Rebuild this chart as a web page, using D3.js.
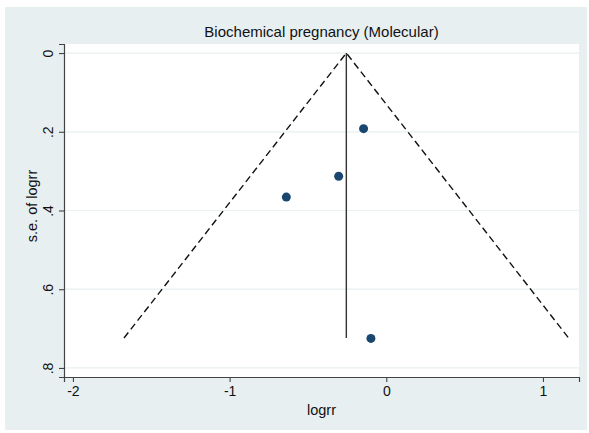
<!DOCTYPE html>
<html>
<head>
<meta charset="utf-8">
<script src="https://cdn.jsdelivr.net/npm/d3@7"></script>
<style>
  body { margin: 0; background: #fff; }
  svg { display: block; font-family: "Liberation Sans", Arial, sans-serif; }
</style>
</head>
<body>
<div id="chart"></div>
<script>
// study estimates (logrr, s.e.)
const logrr = [-0.145, -0.304, -0.638, -0.098];
const seLogrr = [0.192, 0.313, 0.366, 0.725];
// pooled estimate and funnel extent
const pooled = -0.255;
const seMax = 0.724;
const xTicks = [-2, -1, 0, 1];
const yTicks = [0, 0.2, 0.4, 0.6, 0.8];
const yTickLabels = ["0", ".2", ".4", ".6", ".8"];

const W = 589, H = 433;
const margin = { top: 44, right: 10, bottom: 56, left: 64 };

const svg = d3.select("#chart").append("svg")
  .attr("width", W)
  .attr("height", H);

// outer graph region
svg.append("rect")
  .attr("x", 5).attr("y", 7)
  .attr("width", 582).attr("height", 423)
  .attr("fill", "#e7eff1");

const x = d3.scaleLinear().domain([-2.057, 1.23]).range([margin.left, W - margin.right]);
const y = d3.scaleLinear().domain([-0.023, 0.823]).range([margin.top, H - margin.bottom]);

// plot region
svg.append("rect")
  .attr("x", x.range()[0]).attr("y", y.range()[0])
  .attr("width", x.range()[1] - x.range()[0])
  .attr("height", y.range()[1] - y.range()[0])
  .attr("fill", "#fff");

// gridlines
svg.append("g")
  .selectAll("line")
  .data(yTicks)
  .join("line")
  .attr("x1", x.range()[0]).attr("x2", x.range()[1])
  .attr("y1", d => y(d)).attr("y2", d => y(d))
  .attr("stroke", "#e8f0f2")
  .attr("stroke-width", 1.2);

// funnel limits
const funnel = [
  [pooled - 1.96 * seMax, seMax],
  [pooled, 0],
  [pooled + 1.96 * seMax, seMax]
];
svg.append("path")
  .attr("d", d3.line().x(d => x(d[0])).y(d => y(d[1]))(funnel))
  .attr("fill", "none")
  .attr("stroke", "#111")
  .attr("stroke-width", 1.4)
  .attr("stroke-dasharray", "7,4");

// pooled estimate line
svg.append("line")
  .attr("x1", x(pooled)).attr("x2", x(pooled))
  .attr("y1", y(0)).attr("y2", y(seMax))
  .attr("stroke", "#333")
  .attr("stroke-width", 1.4);

// studies
svg.append("g")
  .selectAll("circle")
  .data(logrr)
  .join("circle")
  .attr("cx", d => x(d))
  .attr("cy", (d, i) => y(seLogrr[i]))
  .attr("r", 4.5)
  .attr("fill", "#1a476f");

// axes
const xAxis = svg.append("g")
  .attr("transform", `translate(0,${y.range()[1]})`)
  .call(d3.axisBottom(x).tickValues(xTicks).tickFormat(d => String(d)).tickSizeOuter(0).tickSize(5).tickPadding(4));

const yAxis = svg.append("g")
  .attr("transform", `translate(${x.range()[0]},0)`)
  .call(d3.axisLeft(y).tickValues(yTicks).tickFormat((d, i) => yTickLabels[i]).tickSizeOuter(0).tickSize(5));

[xAxis, yAxis].forEach(a => {
  a.select(".domain").attr("stroke", "#444").attr("stroke-width", 1.2);
  a.selectAll(".tick line").attr("stroke", "#444").attr("stroke-width", 1.1);
  a.selectAll("text").attr("fill", "#111").style("font-size", "14px");
});

yAxis.selectAll(".tick text")
  .attr("x", null).attr("dy", null)
  .attr("text-anchor", "middle")
  .attr("transform", "translate(-16,0) rotate(-90)")
  .attr("dy", "0.35em");

// titles
svg.append("text")
  .attr("x", (x.range()[0] + x.range()[1]) / 2)
  .attr("y", 37)
  .attr("text-anchor", "middle")
  .style("font-size", "15px")
  .attr("fill", "#111")
  .text("Biochemical pregnancy (Molecular)");

svg.append("text")
  .attr("x", (x.range()[0] + x.range()[1]) / 2)
  .attr("y", 415)
  .attr("text-anchor", "middle")
  .style("font-size", "14.5px")
  .attr("fill", "#111")
  .text("logrr");

svg.append("text")
  .attr("transform", `translate(37,206) rotate(-90)`)
  .attr("text-anchor", "middle")
  .style("font-size", "14.5px")
  .attr("fill", "#111")
  .text("s.e. of logrr");
</script>
</body>
</html>
